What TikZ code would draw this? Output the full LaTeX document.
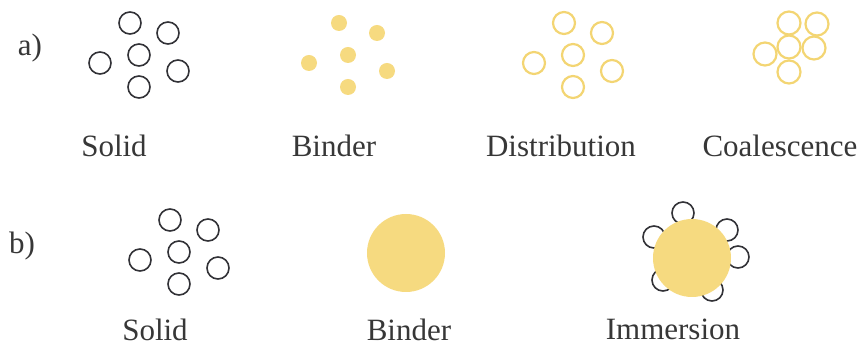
\documentclass[tikz,border=0pt]{standalone}
\usepackage{fontspec}
\setmainfont{Liberation Serif}
\definecolor{binderyellow}{RGB}{246,218,128}
\definecolor{ringyellow}{RGB}{243,213,115}
\definecolor{solidgray}{RGB}{50,50,55}
\definecolor{txtgray}{RGB}{55,55,55}
\begin{document}
\begin{tikzpicture}[line cap=round,line join=round,x=1pt,y=1pt,
		solidball/.style={circle,draw=solidgray,line width=1.6pt,minimum size=22pt,inner sep=0pt},
		binderdrop/.style={circle,fill=binderyellow,minimum size=16pt,inner sep=0pt},
		binderring/.style={circle,draw=ringyellow,line width=2.2pt,minimum size=22pt,inner sep=0pt},
		bigdrop/.style={circle,fill=binderyellow,minimum size=78pt,inner sep=0pt},
		lbl/.style={text=txtgray,font=\rmfamily\fontsize{31}{36}\selectfont}]
		\useasboundingbox (0,0) rectangle (863,347);
		\node[lbl] (rowa) at (30,299) {a)};
		\node[lbl] (rowb) at (22,101) {b)};
		\foreach \dx/\dy [count=\i] in {-9/32,29/22,0/0,-39/-8,39/-16,0/-32}{
			\node[solidball] (sa\i) at (139+\dx,292+\dy) {};
			\node[binderdrop] (ba\i) at (348+\dx,292+\dy) {};
			\node[binderring] (da\i) at (573+\dx,292+\dy) {};
			\node[solidball] (sb\i) at (179+\dx,95+\dy) {};
		}
		\foreach \dx/\dy [count=\i] in {0/24,28/23,0/0,25/-1,-24/-7,0/-25}
			\node[binderring,minimum size=23pt] (ca\i) at (789+\dx,300+\dy) {};
		\node[bigdrop] (bb) at (406,94) {};
		\foreach \dx/\dy [count=\i] in {-9/45,35/28,-38/21,46/1,-29/-22,20/-32}
			\node[solidball] (ib\i) at (692+\dx,89+\dy) {};
		\node[bigdrop] (ibig) at (692,89) {};
		\node[lbl] (solida) at (114,201) {Solid};
		\node[lbl] (bindera) at (334,201) {Binder};
		\node[lbl] (distr) at (561,201) {Distribution};
		\node[lbl] (coal) at (780,201) {Coalescence};
		\node[lbl] (solidb) at (155,17) {Solid};
		\node[lbl] (binderb) at (409,17) {Binder};
		\node[lbl] (immers) at (673,18) {Immersion};
\end{tikzpicture}
\end{document}
